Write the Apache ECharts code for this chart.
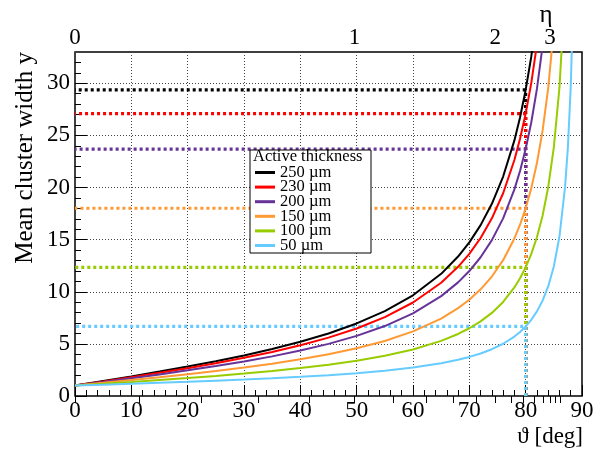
<!DOCTYPE html>
<html>
<head>
<meta charset="utf-8">
<script src="https://cdn.jsdelivr.net/npm/echarts@6/dist/echarts.min.js"></script>
<style>
  html, body { margin: 0; padding: 0; background: #fff; }
  #main { width: 611px; height: 450px; }
</style>
</head>
<body>
<div id="main"></div>
<script>
// incidence angle samples (deg)
const angles = [0, 5, 10, 15, 20, 25, 30, 35, 40, 45, 50, 55, 60, 65, 68, 70, 72, 74, 76, 78, 79, 80,
  81, 82, 83, 84, 85, 86, 87, 87.5, 88, 88.5];

// mean cluster width
const w250 = [1, 1.44, 1.88, 2.34, 2.82, 3.33, 3.89, 4.50, 5.20, 6.00, 6.96, 8.14, 9.66, 11.72,
  13.38, 14.74, 16.39, 18.44, 21.05, 24.52, 26.72, 29.36, 32.57, 36.58];
const w230 = [1, 1.40, 1.81, 2.23, 2.67, 3.14, 3.66, 4.22, 4.86, 5.60, 6.48, 7.57, 8.97, 10.86,
  12.39, 13.64, 15.16, 17.04, 19.45, 22.64, 24.67, 27.09, 30.04, 33.73];
const w200 = [1, 1.35, 1.71, 2.07, 2.46, 2.87, 3.31, 3.80, 4.36, 5.00, 5.77, 6.71, 7.93, 9.58,
  10.90, 11.99, 13.31, 14.95, 17.04, 19.82, 21.58, 23.69, 26.26, 29.46, 33.58];
const w150 = [1, 1.26, 1.53, 1.80, 2.09, 2.40, 2.73, 3.10, 3.52, 4.00, 4.58, 5.28, 6.20, 7.43,
  8.43, 9.24, 10.23, 11.46, 13.03, 15.11, 16.43, 18.01, 19.94, 22.35, 25.43, 29.54, 35.29];
const w100 = [1, 1.17, 1.35, 1.54, 1.73, 1.93, 2.15, 2.40, 2.68, 3.00, 3.38, 3.86, 4.46, 5.29,
  5.95, 6.50, 7.16, 7.97, 9.02, 10.41, 11.29, 12.34, 13.63, 15.23, 17.29, 20.03, 23.86, 29.60, 39.16];
const w50 = [1, 1.09, 1.18, 1.27, 1.36, 1.47, 1.58, 1.70, 1.84, 2.00, 2.19, 2.43, 2.73, 3.14,
  3.48, 3.75, 4.08, 4.49, 5.01, 5.70, 6.14, 6.67, 7.31, 8.12, 9.14, 10.51, 12.43, 15.30, 20.08,
  23.90, 29.64, 39.19];

const names = ['250 µm', '230 µm', '200 µm', '150 µm', '100 µm', '50 µm'];
const widths = [w250, w230, w200, w150, w100, w50];
const colors = ['#000000', '#ff0000', '#663399', '#ff9933', '#99cc00', '#66ccff'];

// width at 80 deg (dotted guides)
const refTheta = 80;
const refValues = [29.36, 27.09, 23.69, 18.01, 12.34, 6.67];

// top axis: pseudorapidity
const etaLabels = [0, 1, 2, 3];
const etaMinor = [0.2, 0.4, 0.6, 0.8, 1.2, 1.4, 1.6, 1.8, 2.2, 2.4, 2.6, 2.8, 3.2, 3.4];
const etaToTheta = eta => 90 - 2 * Math.atan(Math.exp(-eta)) * 180 / Math.PI;
const etaPos = etaLabels.map(etaToTheta);

const font = 'Liberation Serif, Times New Roman, serif';

let series = [];
refValues.forEach((v, i) => {
  // start at the bottom so the vertical dots line up
  series.push({
    type: 'line',
    data: [[refTheta, 0], [refTheta, v], [0, v]],
    showSymbol: false,
    silent: true,
    z: 1,
    lineStyle: { color: colors[i], width: 3.2, type: [3, 3] }
  });
});
widths.forEach((ys, i) => {
  series.push({
    name: names[i],
    type: 'line',
    data: ys.map((y, j) => [angles[j], y]),
    showSymbol: false,
    z: 2,
    lineStyle: { color: colors[i], width: 2 },
    itemStyle: { color: colors[i] }
  });
});

let option = {
  animation: false,
  backgroundColor: '#fff',
  textStyle: { fontFamily: font },
  grid: {
    left: 75, right: 29, top: 52, bottom: 54,
    show: true, borderColor: '#000', borderWidth: 1.5, backgroundColor: 'transparent'
  },
  xAxis: [
    {
      type: 'value', min: 0, max: 90, interval: 10, position: 'bottom',
      axisLine: { show: false },
      axisTick: { inside: true, length: 11, lineStyle: { color: '#000' } },
      minorTick: { show: true, splitNumber: 5, length: 6, lineStyle: { color: '#000' } },
      splitLine: { show: true, lineStyle: { color: '#444', type: [1, 2], width: 1 } },
      axisLabel: { color: '#000', fontSize: 23, fontFamily: font, margin: 3 }
    },
    {
      type: 'value', min: 0, max: 90, position: 'top',
      axisLine: { show: false },
      axisTick: { inside: true, length: 7, customValues: etaPos.concat(etaMinor.map(etaToTheta)), lineStyle: { color: '#000' } },
      splitLine: { show: false },
      axisLabel: {
        color: '#000', fontSize: 23, fontFamily: font, margin: 3,
        customValues: etaPos,
        formatter: v => String(etaLabels[etaPos.indexOf(v)])
      }
    }
  ],
  yAxis: [
    {
      type: 'value', min: 0, max: 33, interval: 5,
      axisLine: { show: false },
      axisTick: { inside: true, length: 12, customValues: [0, 5, 10, 15, 20, 25, 30], lineStyle: { color: '#000' } },
      splitLine: { show: true, lineStyle: { color: '#444', type: [1, 2], width: 1 } },
      axisLabel: { color: '#000', fontSize: 23, fontFamily: font, margin: 5, showMaxLabel: false }
    },
    {
      type: 'value', min: 0, max: 33, position: 'left',
      axisLine: { show: false },
      axisTick: {
        inside: true, length: 6, lineStyle: { color: '#000' },
        customValues: [1, 2, 3, 4, 6, 7, 8, 9, 11, 12, 13, 14, 16, 17, 18, 19, 21, 22, 23, 24, 26, 27, 28, 29, 31, 32]
      },
      splitLine: { show: false },
      axisLabel: { show: false }
    }
  ],
  legend: {
    data: names,
    orient: 'vertical',
    left: 255,
    top: 164,
    padding: 0,
    itemGap: -2.4,
    itemWidth: 20,
    itemHeight: 3,
    icon: 'rect',
    z: 6,
    textStyle: { color: '#000', fontSize: 16.5, fontFamily: font }
  },
  graphic: [
    {
      type: 'rect', z: 5,
      shape: { x: 250, y: 150, width: 121, height: 103 },
      style: { fill: '#fff', stroke: '#000', lineWidth: 1 }
    },
    {
      type: 'text', z: 7, x: 253, y: 157,
      style: { text: 'Active thickness', font: '16.5px ' + font, fill: '#000', textVerticalAlign: 'middle', verticalAlign: 'middle' }
    },
    {
      type: 'text', x: 25, y: 52, rotation: Math.PI / 2,
      style: {
        text: 'Mean cluster width y', font: '25px ' + font, fill: '#000',
        textAlign: 'right', align: 'right', textVerticalAlign: 'middle', verticalAlign: 'middle'
      }
    },
    {
      type: 'text', x: 583, y: 437,
      style: {
        text: 'ϑ [deg]', font: '23px ' + font, fill: '#000',
        textAlign: 'right', align: 'right', textVerticalAlign: 'middle', verticalAlign: 'middle'
      }
    },
    {
      type: 'text', x: 546, y: 15,
      style: {
        text: 'η', font: '25px ' + font, fill: '#000',
        textAlign: 'center', align: 'center', textVerticalAlign: 'middle', verticalAlign: 'middle'
      }
    }
  ],
  series: series
};

let myChart = echarts.init(document.getElementById('main'));
myChart.setOption(option);
</script>
</body>
</html>
